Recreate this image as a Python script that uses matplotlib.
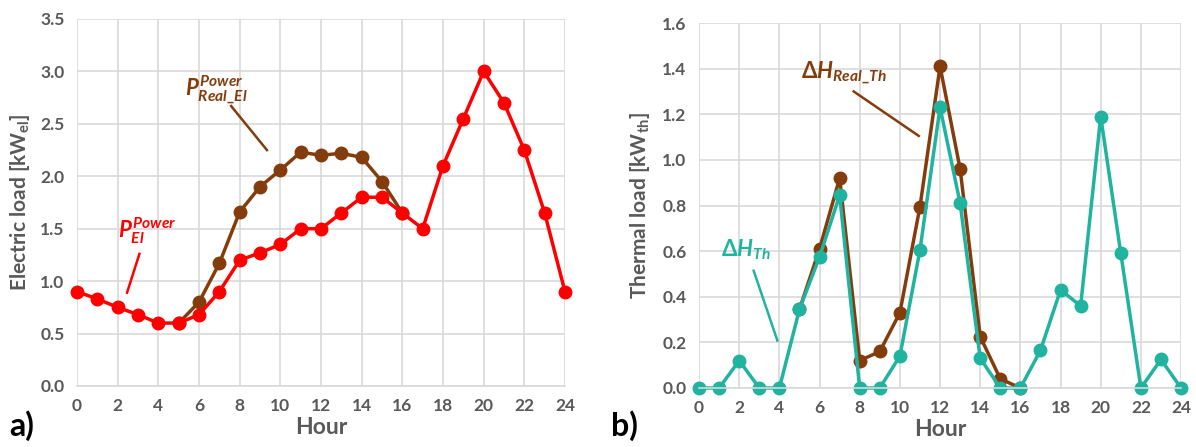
import matplotlib
matplotlib.use("Agg")
import matplotlib.pyplot as plt

plt.rcParams['font.family'] = ['Lato', 'DejaVu Sans']
plt.rcParams['mathtext.fontset'] = 'custom'
plt.rcParams['mathtext.rm'] = 'Lato:bold'
plt.rcParams['mathtext.it'] = 'Lato:italic:bold'
plt.rcParams['mathtext.bf'] = 'Lato:bold'

# data
hours = list(range(25))
p_el = [0.9, 0.83, 0.75, 0.68, 0.6, 0.6, 0.68, 0.9, 1.2, 1.27, 1.35, 1.5, 1.5,
        1.65, 1.8, 1.8, 1.65, 1.5, 2.1, 2.55, 3.0, 2.7, 2.25, 1.65, 0.9]
hours_real = list(range(5, 17))
p_real_el = [0.6, 0.8, 1.17, 1.66, 1.9, 2.06, 2.23, 2.2, 2.22, 2.18, 1.95, 1.65]

h_th = [0.0, 0.0, 0.12, 0.0, 0.0, 0.345, 0.575, 0.845, 0.0, 0.0, 0.14, 0.605, 1.23,
        0.81, 0.13, 0.0, 0.0, 0.165, 0.43, 0.36, 1.19, 0.59, 0.0, 0.125, 0.0]
h_real_th = [0.345, 0.61, 0.92, 0.12, 0.16, 0.33, 0.795, 1.41, 0.96, 0.225, 0.04, 0.0]

RED = '#FF0000'
BROWN = '#843C0C'
TEAL = '#1FB3A0'
GRAY = '#595959'
GRID = '#D9D9D9'

fig = plt.figure(figsize=(11.96, 4.47), dpi=100)
ax1 = fig.add_axes([0.0644, 0.1365, 0.408, 0.821])
ax2 = fig.add_axes([0.5845, 0.132, 0.403, 0.8165])


def style(ax, ymax, ystep, ylabel, pad):
    ax.set_xlim(0, 24)
    ax.set_ylim(0, ymax)
    ax.set_xticks(range(0, 25, 2))
    n = int(round(ymax / ystep))
    ax.set_yticks([i * ystep for i in range(n + 1)])
    ax.yaxis.set_major_formatter(matplotlib.ticker.FormatStrFormatter('%.1f'))
    ax.grid(True, color=GRID, linewidth=1.2)
    ax.set_axisbelow(True)
    for s in ['top', 'right', 'left']:
        ax.spines[s].set_visible(False)
    ax.spines['bottom'].set_color(GRID)
    ax.spines['bottom'].set_linewidth(1.2)
    ax.tick_params(length=0, labelsize=12.5, labelcolor=GRAY, pad=9)
    for lab in ax.get_xticklabels() + ax.get_yticklabels():
        lab.set_fontweight('bold')
    ax.set_xlabel('Hour', fontsize=16.5, fontweight='bold', color=GRAY, labelpad=2)
    ax.set_ylabel(ylabel, fontsize=15, fontweight='bold', color=GRAY, labelpad=pad)


style(ax1, 3.5, 0.5, r'Electric load [kW$_{\mathregular{el}}$]', 6)
style(ax2, 1.6, 0.2, r'Thermal load [kW$_{\mathregular{th}}$]', 7)

mk = dict(marker='o', markersize=9, linewidth=2.5, clip_on=False)

# panel a
ax1.plot(hours_real, p_real_el, color=BROWN, **mk)
ax1.plot(hours, p_el, color=RED, **mk)
ax1.text(5.3, 2.76, r'$P^{Power}_{Real\_El}$', color=BROWN, fontsize=16)
ax1.plot([7.58, 9.34], [2.67, 2.25], color=BROWN, linewidth=1.8)
ax1.text(2.0, 1.41, r'$P^{Power}_{El}$', color=RED, fontsize=16)
ax1.plot([3.07, 2.46], [1.26, 0.89], color=RED, linewidth=1.8)

# panel b
ax2.plot(hours_real, h_real_th, color=BROWN, **mk)
ax2.plot(hours, h_th, color=TEAL, **mk)
ax2.text(5.1, 1.355, r'$\mathit{\Delta H}_{Real\_Th}$', color=BROWN, fontsize=16)
ax2.plot([7.7, 10.94], [1.30, 1.105], color=BROWN, linewidth=1.8)
ax2.text(1.1, 0.575, r'$\mathit{\Delta H}_{Th}$', color=TEAL, fontsize=16)
ax2.plot([2.72, 3.9], [0.514, 0.208], color=TEAL, linewidth=1.8)

fig.text(0.008, 0.025, 'a)', fontsize=23, fontweight='bold', color='black')
fig.text(0.511, 0.025, 'b)', fontsize=23, fontweight='bold', color='black')

fig.savefig('out.png', dpi=100)
